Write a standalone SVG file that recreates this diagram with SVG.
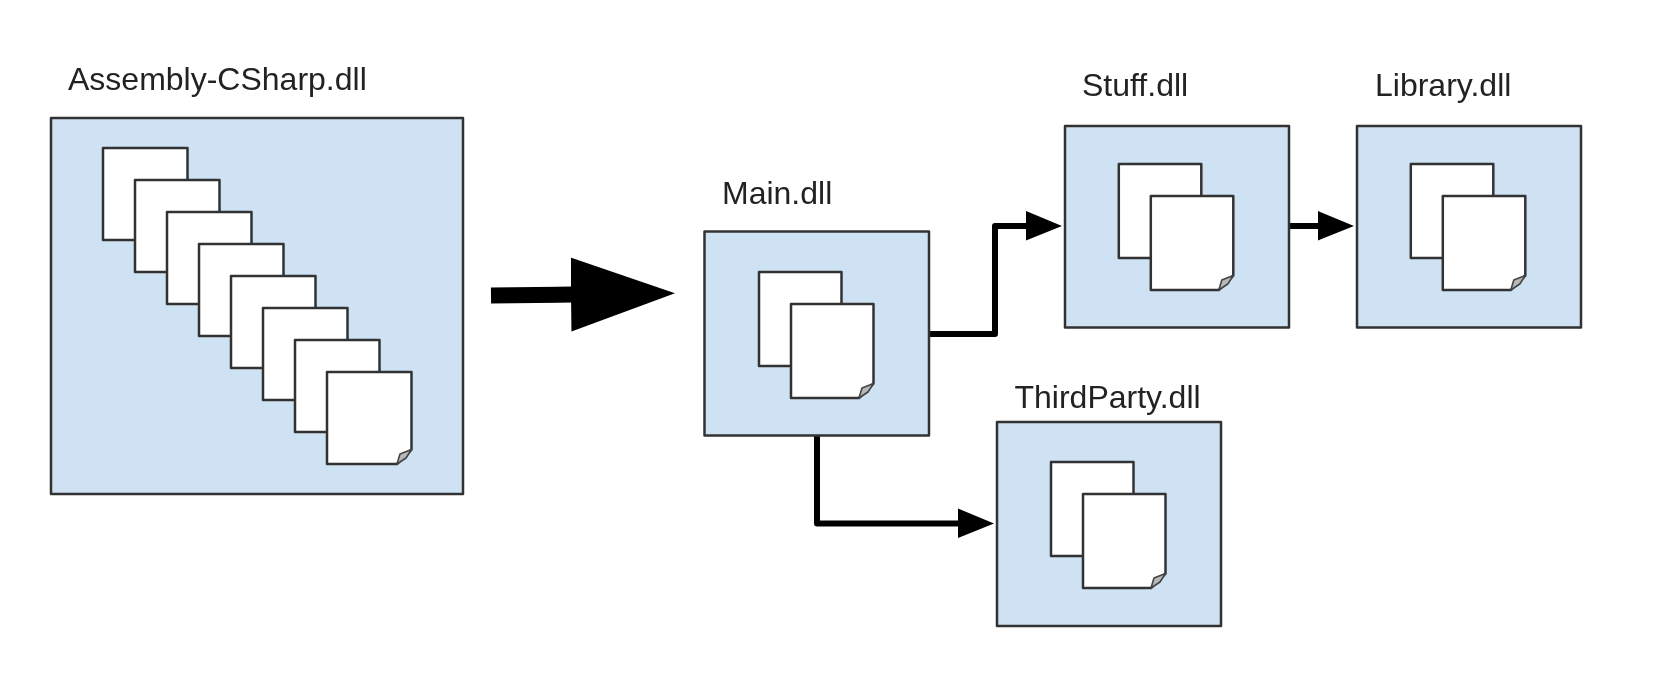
<svg xmlns="http://www.w3.org/2000/svg" width="1678" height="686" viewBox="0 0 1678 686">
  <style>
    .box { fill: #cfe2f3; stroke: #333; stroke-width: 2.5; stroke-linejoin: round; }
    .page { fill: #fff; stroke: #333; stroke-width: 2.5; stroke-linejoin: round; }
    .fold { fill: #b8b8b8; stroke: #444; stroke-width: 1.6; stroke-linejoin: round; }
    .label { font-family: "Liberation Sans", Arial, sans-serif; font-size: 32px; fill: #222; }
    .conn { fill: none; stroke: #000; stroke-width: 6; stroke-linejoin: round; }
    .big { fill: none; stroke: #000; stroke-width: 16; }
  </style>
  <defs>
    <filter id="soft" x="0" y="0" width="1678" height="686" filterUnits="userSpaceOnUse">
      <feGaussianBlur stdDeviation="0.7"/>
    </filter>
    <marker id="head" markerUnits="userSpaceOnUse" markerWidth="40" markerHeight="34" viewBox="0 -17 40 34" refX="1" refY="0" orient="auto">
      <path d="M0 -15 L36 0 L0 14.5 Z" fill="#000"/>
    </marker>
    <marker id="bighead" markerUnits="userSpaceOnUse" markerWidth="110" markerHeight="80" viewBox="0 -40 110 80" refX="1" refY="0" orient="auto">
      <path d="M0 -37 L104 0 L0 37 Z" fill="#000"/>
    </marker>
    <path id="back" class="page" d="M0 0H82.5V94H0Z"/>
    <g id="front">
      <path class="page" d="M0 0H82.5V79.5L68 94H0Z"/>
      <path class="fold" d="M68 94L71 84L82.5 79.5L77 88Z"/>
    </g>
    <g id="pair">
      <use href="#back" x="0" y="0"/>
      <use href="#front" x="32" y="32"/>
    </g>
    <path id="back-lg" class="page" d="M0 0H84.5V92H0Z"/>
    <g id="front-lg">
      <path class="page" d="M0 0H84.5V77.5L70 92H0Z"/>
      <path class="fold" d="M70 92L73 82L84.5 77.5L79 86Z"/>
    </g>
  </defs>
  <rect width="1678" height="686" fill="#fff"/>
  <g filter="url(#soft)">
    <g id="connectors">
      <path class="big" d="M491 295.5L572 294.5" marker-end="url(#bighead)"/>
      <path class="conn" d="M929 334H995V226H1027" marker-end="url(#head)"/>
      <path class="conn" d="M1289 226H1319" marker-end="url(#head)"/>
      <path class="conn" d="M817 436V523.5H959" marker-end="url(#head)"/>
    </g>
    <g id="assembly-csharp">
      <text class="label" x="68" y="89.5">Assembly-CSharp.dll</text>
      <rect class="box" x="51" y="118" width="412" height="376"/>
      <use href="#back-lg" x="103" y="148"/>
      <use href="#back-lg" x="135" y="180"/>
      <use href="#back-lg" x="167" y="212"/>
      <use href="#back-lg" x="199" y="244"/>
      <use href="#back-lg" x="231" y="276"/>
      <use href="#back-lg" x="263" y="308"/>
      <use href="#back-lg" x="295" y="340"/>
      <use href="#front-lg" x="327" y="372"/>
    </g>
    <g id="main">
      <text class="label" x="722" y="204">Main.dll</text>
      <rect class="box" x="704.5" y="231.5" width="224.5" height="204"/>
      <use href="#pair" x="759" y="272"/>
    </g>
    <g id="stuff">
      <text class="label" x="1082" y="96">Stuff.dll</text>
      <rect class="box" x="1065" y="126" width="224" height="201.5"/>
      <use href="#pair" x="1118.8" y="164"/>
    </g>
    <g id="library">
      <text class="label" x="1375" y="96">Library.dll</text>
      <rect class="box" x="1357" y="126" width="224" height="201.5"/>
      <use href="#pair" x="1410.8" y="164"/>
    </g>
    <g id="thirdparty">
      <text class="label" x="1014.5" y="408">ThirdParty.dll</text>
      <rect class="box" x="997" y="422" width="224" height="204"/>
      <use href="#pair" x="1051" y="462"/>
    </g>
  </g>
</svg>
